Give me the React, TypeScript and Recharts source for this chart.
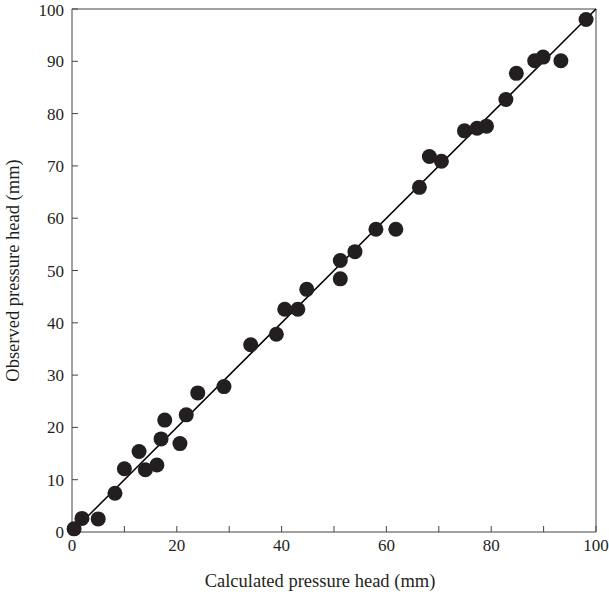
import { ScatterChart, Scatter, XAxis, YAxis } from 'recharts'

// calculated vs observed pressure head (mm)
const calculated = [
  0.4, 1.9, 5.0, 8.2, 10.0, 12.8, 14.0, 16.2, 17.0, 17.7, 20.6, 21.8,
  24.0, 29.0, 34.1, 39.0, 40.6, 43.1, 44.8, 51.2, 51.2, 54.0, 58.0, 61.8,
  66.3, 68.2, 70.5, 74.9, 77.3, 79.1, 82.8, 84.8, 88.3, 89.9, 93.3, 98.1,
]
const observed = [
  0.6, 2.6, 2.5, 7.4, 12.1, 15.4, 11.9, 12.8, 17.8, 21.4, 16.9, 22.4,
  26.6, 27.8, 35.8, 37.8, 42.6, 42.6, 46.4, 48.4, 51.9, 53.6, 57.9, 57.9,
  65.9, 71.8, 70.9, 76.7, 77.2, 77.6, 82.7, 87.7, 90.1, 90.8, 90.1, 98.0,
]
const oneToOne = [{ x: 0, y: 0 }, { x: 100, y: 100 }]
const xTicks = [0, 10, 20, 30, 40, 50, 60, 70, 80, 90, 100]
const yTicks = [0, 10, 20, 30, 40, 50, 60, 70, 80, 90, 100]

const points = calculated.map((x, i) => ({ x, y: observed[i] }))

const axisColor = '#444'
const font = { fontFamily: '"Liberation Serif", "DejaVu Serif", serif', fontSize: 17, fill: '#231f20' }

export default function App() {
  return (
    <div style={{ position: 'absolute', left: 0, top: 0, background: '#fff' }}>
      <ScatterChart width={609} height={599} margin={{ top: 8, right: 12, left: 0, bottom: 0 }}>
        <XAxis
          xAxisId="b" dataKey="x" type="number" domain={[0, 100]} ticks={xTicks}
          height={67} stroke={axisColor} tickSize={-6} tickMargin={13}
          tickFormatter={(v: number) => (v % 20 === 0 ? String(v) : '')}
          tick={font}
          label={{ value: 'Calculated pressure head (mm)', position: 'insideBottom', offset: 12, dx: -14, style: { ...font, fontSize: 18.5 } }}
        />
        <XAxis
          xAxisId="t" orientation="top" dataKey="x" type="number" domain={[0, 100]} ticks={xTicks}
          height={1} stroke={axisColor} tickSize={-6} tickFormatter={() => ''}
        />
        <YAxis
          yAxisId="l" dataKey="y" type="number" domain={[0, 100]} ticks={yTicks}
          width={72} stroke={axisColor} tickSize={-6} tickMargin={14}
          tick={font}
          label={{ value: 'Observed pressure head (mm)', angle: -90, position: 'insideLeft', offset: 12, style: { ...font, fontSize: 18.5, textAnchor: 'middle' } }}
        />
        <YAxis
          yAxisId="r" orientation="right" dataKey="y" type="number" domain={[0, 100]} ticks={yTicks}
          width={1} stroke={axisColor} tickSize={-6} tickFormatter={() => ''}
        />
        <Scatter
          xAxisId="b" yAxisId="l" data={oneToOne} line={{ stroke: '#000', strokeWidth: 1.5 }}
          shape={() => <g />} isAnimationActive={false}
        />
        <Scatter
          xAxisId="b" yAxisId="l" data={points} fill="#231f20" isAnimationActive={false}
          shape={(p: any) => <circle cx={p.cx} cy={p.cy} r={7.5} fill="#231f20" />}
        />
      </ScatterChart>
    </div>
  )
}
